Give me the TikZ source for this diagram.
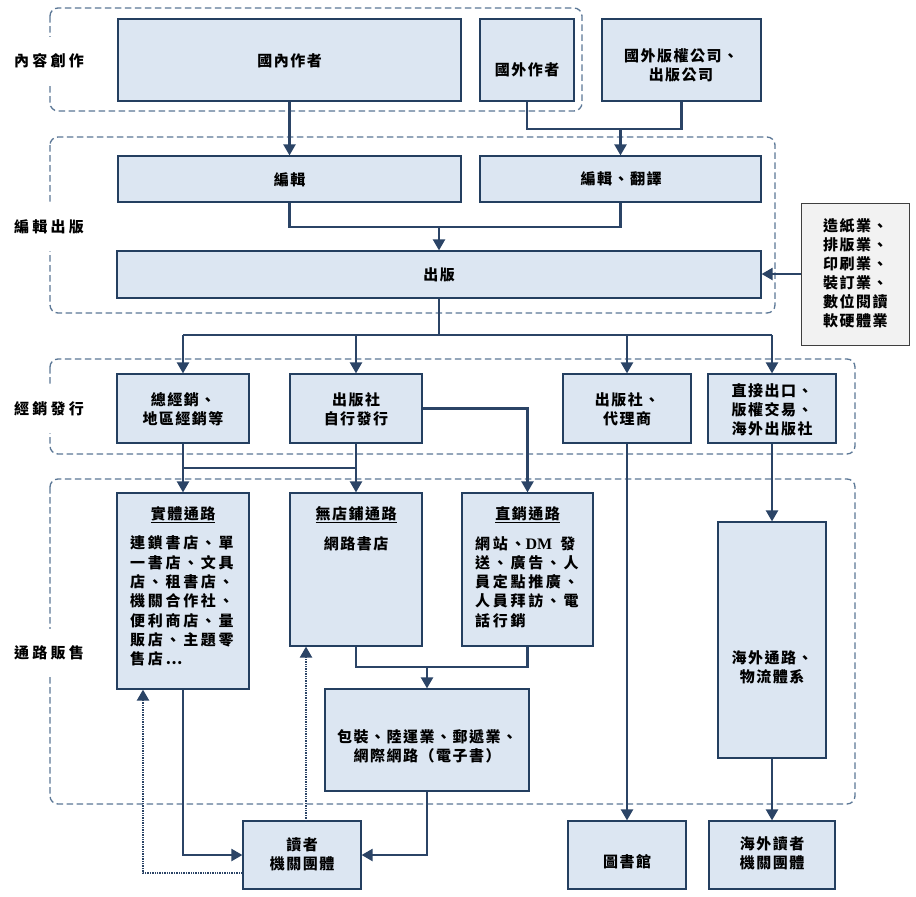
\documentclass[tikz,border=0pt]{standalone}
\usepackage{fontspec}
\usetikzlibrary{arrows.meta}
\newfontfamily\cjk[LetterSpace=10]{Noto Sans CJK TC}
\newfontfamily\cjkbody[LetterSpace=18]{Noto Sans CJK TC}
\newfontfamily\cjkwide[LetterSpace=22]{Noto Sans CJK TC}
\newfontfamily\latf{Liberation Serif}
\definecolor{boxfill}{HTML}{DCE6F2}
\definecolor{boxline}{HTML}{243F60}
\definecolor{connc}{HTML}{2B4466}
\definecolor{grpline}{HTML}{5B7796}
\definecolor{supfill}{HTML}{F2F2F2}
\definecolor{supline}{HTML}{3F3F3F}
\tikzset{
  box/.style={draw=boxline, fill=boxfill, line width=1.2pt, inner sep=0pt, rectangle},
  supbox/.style={draw=supline, fill=supfill, line width=1pt, inner sep=0pt, rectangle},
  txt/.style={font=\cjk\bfseries\fontsize{15}{19}\selectfont, align=center, inner sep=0pt, text=black},
  ltxt/.style={txt, align=left, anchor=west},
  grp/.style={draw=grpline, line width=1.3pt, dash pattern=on 6.5pt off 3.5pt, rounded corners=8pt},
  conn/.style={draw=connc, line width=2.2pt},
  arr/.style={conn, -{Triangle[length=11pt,width=12pt]}},
  dotarr/.style={draw=connc, line width=2.2pt, dash pattern=on 1.4pt off 1pt, -{Triangle[length=11pt,width=12pt]}},
  glabel/.style={font=\cjkwide\bfseries\fontsize{15}{19}\selectfont, fill=white, inner xsep=2pt, inner ysep=0pt, minimum height=48pt, text=black}
}
\begin{document}
\begin{tikzpicture}[x=1pt,y=-1pt]
\useasboundingbox[fill=white] (0,0) rectangle (916,897);
% groups
\draw[grp] (50,8) rectangle (582,111);
\draw[grp] (50,137) rectangle (775,313);
\draw[grp] (50,359) rectangle (855,454);
\draw[grp] (50,479) rectangle (855,804);
\node[glabel] (g1) at (49,61) {內容創作};
\node[glabel] (g2) at (49,227) {編輯出版};
\node[glabel] (g3) at (49,409) {經銷發行};
\node[glabel] (g4) at (49,653) {通路販售};
% boxes
\node[box, minimum width=343pt, minimum height=82pt] (ndom) at (289.5,60) {};
\node[box, minimum width=94pt, minimum height=82pt] (nfa) at (527,60) {};
\node[box, minimum width=159pt, minimum height=82pt] (nfp) at (681.5,60) {};
\node[box, minimum width=343pt, minimum height=46pt] (ned) at (289.5,179) {};
\node[box, minimum width=281pt, minimum height=46pt] (netr) at (620.5,179) {};
\node[box, minimum width=644pt, minimum height=47pt] (npub) at (439,274.5) {};
\node[supbox, minimum width=108pt, minimum height=142pt] (nsup) at (855,274) {};
\node[box, minimum width=132pt, minimum height=69pt] (nd1) at (183,408.5) {};
\node[box, minimum width=132pt, minimum height=69pt] (nd2) at (356,408.5) {};
\node[box, minimum width=128pt, minimum height=69pt] (nd3) at (627,408.5) {};
\node[box, minimum width=128pt, minimum height=69pt] (nd4) at (772,408.5) {};
\node[box, minimum width=132pt, minimum height=196pt] (nphys) at (183,591) {};
\node[box, minimum width=132pt, minimum height=153pt] (nns) at (356,569.5) {};
\node[box, minimum width=131pt, minimum height=153pt] (ndm) at (527.5,569.5) {};
\node[box, minimum width=108pt, minimum height=236pt] (nov) at (772,640) {};
\node[box, minimum width=204pt, minimum height=102pt] (npk) at (427,740) {};
\node[box, minimum width=118pt, minimum height=68pt] (nrd) at (302,855) {};
\node[box, minimum width=118pt, minimum height=68pt] (nlib) at (627,855) {};
\node[box, minimum width=126pt, minimum height=68pt] (novr) at (772,855) {};
% texts
\node[txt] (t1) at (289.5,61) {國內作者};
\node[txt] (t2) at (527,70) {國外作者};
\node[txt] (t3) at (681,65.5) {國外版權公司、\\出版公司};
\node[txt] (t4) at (289.5,180) {編輯};
\node[txt] (t5) at (621,179) {編輯、翻譯};
\node[txt] (t6) at (439,275) {出版};
\node[ltxt] (t7) at (823,273) {造紙業、\\排版業、\\印刷業、\\裝訂業、\\數位閱讀\\軟硬體業};
\node[txt] (t8) at (183,409.5) {總經銷、\\地區經銷等};
\node[txt] (t9) at (356,409.5) {出版社\\自行發行};
\node[txt] (t10) at (627,409.5) {出版社、\\代理商};
\node[txt] (t11) at (772,410) {直接出口、\\版權交易、\\海外出版社};
\node[txt] (h1) at (183,515) {\underline{實體通路}};
\node[txt] (h2) at (356,515) {\underline{無店鋪通路}};
\node[txt] (h3) at (527.5,515) {\underline{直銷通路}};
\node[ltxt, font=\cjkbody\bfseries\fontsize{15}{19.33}\selectfont] (t12) at (130,601) {連鎖書店、單\\一書店、文具\\店、租書店、\\機關合作社、\\便利商店、量\\販店、主題零\\售店…};
\node[txt] (t13) at (356,544) {網路書店};
\node[ltxt, font=\cjkbody\bfseries\fontsize{15}{19.25}\selectfont] (t14) at (475,582) {網站、{\latf\bfseries\fontsize{16}{19}\selectfont DM\ \ }發\\送、廣告、人\\員定點推廣、\\人員拜訪、電\\話行銷};
\node[txt] (t15) at (772,667.5) {海外通路、\\物流體系};
\node[txt] (t16) at (427,746.5) {包裝、陸運業、郵遞業、\\網際網路（電子書）};
\node[txt] (t17) at (302,854.5) {讀者\\機關團體};
\node[txt] (t18) at (627,862) {圖書館};
\node[txt] (t19) at (772,853.5) {海外讀者\\機關團體};
% connectors
\draw[arr] (ndom.south) -- (ned.north);
\coordinate (j1) at (620.5,129);
\draw[conn] (nfa.south) |- (j1) -| (nfp.south);
\draw[arr] (j1) -- (netr.north);
\coordinate (j2) at (439,227);
\draw[conn] (ned.south) |- (j2) -| (netr.south);
\draw[arr] (j2) -- (npub.north);
\draw[arr] (nsup.west) -- (nsup.west -| npub.east);
\coordinate (j3) at (439,335);
\draw[conn] (npub.south) -- (j3);
\draw[conn] (nd1.north |- j3) -- (nd4.north |- j3);
\foreach \n in {nd1,nd2,nd3,nd4} \draw[arr] (\n.north |- j3) -- (\n.north);
\draw[arr] (nd1.south) -- (nphys.north);
\draw[arr] (nd2.south) -- (nns.north);
\coordinate (j4) at (183,468);
\draw[conn] (j4) -- (j4 -| nd2.south);
\draw[arr] (nd2.east) -| (ndm.north);
\draw[arr] (nd3.south) -- (nlib.north);
\draw[arr] (nd4.south) -- (nov.north);
\draw[arr] (nov.south) -- (novr.north);
\coordinate (j5) at (427,667);
\draw[conn] (nns.south) |- (j5) -| (ndm.south);
\draw[arr] (j5) -- (npk.north);
\draw[arr] (nphys.south) |- (nrd.west);
\draw[arr] (npk.south) |- (nrd.east);
\draw[dotarr] ([yshift=-18pt]nrd.west) -| ([xshift=-40pt]nphys.south);
\coordinate (j6) at (306,821);
\draw[dotarr] (j6) -- (j6 |- nns.south);
\end{tikzpicture}
\end{document}
